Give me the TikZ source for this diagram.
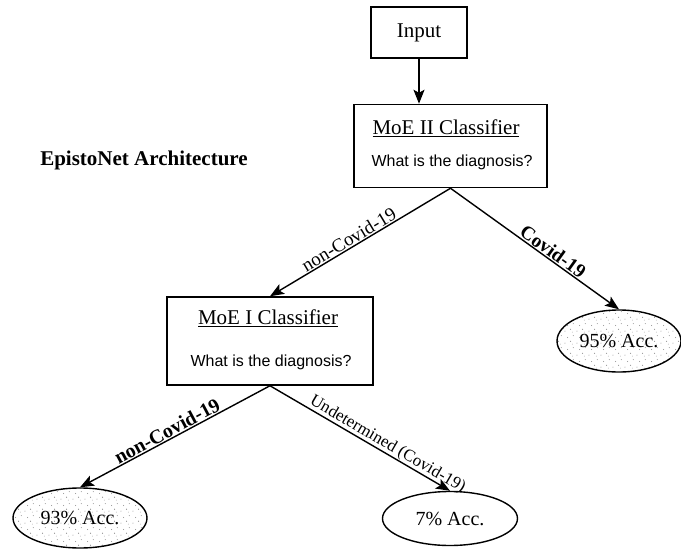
\documentclass[tikz,border=0pt]{standalone}
\usepackage{fontspec}
\setmainfont{Liberation Serif}
\newfontfamily\qfont{Liberation Sans}
\usetikzlibrary{arrows.meta,shapes.geometric,patterns}
\pgfdeclarepatternformonly{sparsedots}{\pgfpointorigin}{\pgfpoint{12pt}{12pt}}{\pgfpoint{12pt}{12pt}}{%
  \pgfpathcircle{\pgfpoint{1pt}{2pt}}{0.55pt}%
  \pgfpathcircle{\pgfpoint{7pt}{4pt}}{0.55pt}%
  \pgfpathcircle{\pgfpoint{4pt}{8pt}}{0.55pt}%
  \pgfpathcircle{\pgfpoint{10pt}{10pt}}{0.55pt}%
  \pgfpathcircle{\pgfpoint{9pt}{1pt}}{0.45pt}%
  \pgfusepath{fill}}
\tikzset{
  box/.style={draw, line width=1.5pt, inner sep=0pt},
  ttl/.style={font=\fontsize{21}{25}\selectfont, inner sep=0pt},
  qst/.style={font=\qfont\fontsize{16}{19}\selectfont, inner sep=0pt},
  acc/.style={draw, ellipse, line width=1.4pt, inner sep=0pt, font=\fontsize{20}{24}\selectfont},
  dotted fill/.style={pattern=sparsedots, pattern color=black!45},
  arr/.style={line width=1.4pt, -{Stealth[length=14pt,width=11pt,inset=3pt]}},
  lbl/.style={sloped, above, inner sep=1pt, font=\fontsize{19}{22}\selectfont},
}
\begin{document}
\begin{tikzpicture}[x=1pt,y=-1pt]
\useasboundingbox (0,0) rectangle (681,549);
% boxes
\node[box, minimum width=96pt, minimum height=51pt, font=\fontsize{21}{25}\selectfont, inner sep=0pt] (input) at (419,32.5) {Input};
\node[box, minimum width=193pt, minimum height=83pt] (moe2) at (450.5,146) {};
\node[ttl] (moe2t) at (446,128) {\underline{MoE II Classifier}};
\node[qst] (moe2q) at (452,162) {What is the diagnosis?};
\node[box, minimum width=206pt, minimum height=88pt] (moe1) at (270,341) {};
\node[ttl] (moe1t) at (268,318) {\underline{MoE I Classifier}};
\node[qst] (moe1q) at (271,362) {What is the diagnosis?};
% title
\node[font=\bfseries\fontsize{21}{25}\selectfont, inner sep=0pt] (title) at (144,160) {EpistoNet Architecture};
% ellipses
\node[acc, dotted fill, minimum width=124pt, minimum height=62pt] (e95) at (619,341) {95\% Acc.};
\node[acc, dotted fill, minimum width=134pt, minimum height=60pt] (e93) at (80,518) {93\% Acc.};
\node[acc, fill=white, minimum width=135pt, minimum height=54pt] (e7) at (450,518.5) {7\% Acc.};
% connectors
\coordinate (in2) at (input.south |- moe2.north);
\draw[arr] (input.south) -- (in2);
\draw[arr] (moe2.south) -- (moe1.north) node[lbl, pos=0.54] (l1) {non-Covid-19};
\draw[arr] (moe2.south) -- (e95.north) node[lbl, pos=0.58, font=\bfseries\fontsize{19.5}{22}\selectfont] (l2) {Covid-19};
\draw[arr] (moe1.south) -- (e93.north) node[lbl, pos=0.52, font=\bfseries\fontsize{20}{23}\selectfont] (l3) {non-Covid-19};
\draw[arr] (moe1.south) -- (e7.north) node[lbl, pos=0.63, inner sep=0pt, font=\fontsize{17}{20}\selectfont] (l4) {Undetermined (Covid-19)};
\end{tikzpicture}
\end{document}
